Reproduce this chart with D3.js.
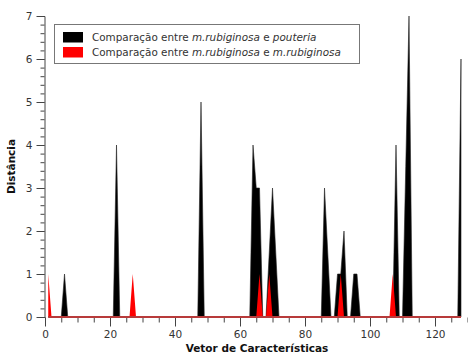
<!DOCTYPE html>
<html>
<head>
<meta charset="utf-8">
<script src="https://cdn.jsdelivr.net/npm/d3@7"></script>
<style>
  body { margin: 0; background: #fff; }
  svg { display: block; font-family: "DejaVu Sans", Verdana, sans-serif; }
</style>
</head>
<body>
<svg id="chart" width="468" height="355"></svg>
<script>
// feature indices along the x axis
const features = d3.range(1, 129);

// m.rubiginosa x pouteria: features with a non-zero distance (rest is 0)
const pouteriaPos = [6, 22, 48, 64, 65, 66, 69, 70, 71, 86, 87, 90, 91, 92, 95, 96, 108, 111, 112, 128];
const pouteriaVal = [1, 4, 5, 4, 3, 3, 1.5, 3, 1.5, 3, 1.5, 1, 1, 2, 1, 1, 4, 3.5, 7, 6];

// m.rubiginosa x m.rubiginosa
const rubiginosaPos = [1, 27, 66, 69, 91, 107];
const rubiginosaVal = [1, 1, 1, 1, 1, 1];

const xTicks = [0, 20, 40, 60, 80, 100, 120];
const yTicks = [0, 1, 2, 3, 4, 5, 6, 7];

// legend rows: [text, italic]
const legendRows = [
  [["Comparação entre ", false], ["m.rubiginosa", true], [" e ", false], ["pouteria", true]],
  [["Comparação entre ", false], ["m.rubiginosa", true], [" e ", false], ["m.rubiginosa", true]]
];
const seriesColors = ["#000000", "#ff0000"];

function toSeries(pos, val) {
  const m = new Map(pos.map((p, i) => [p, val[i]]));
  return features.map((f) => ({ x: f, y: m.has(f) ? m.get(f) : 0 }));
}

const data = [toSeries(pouteriaPos, pouteriaVal), toSeries(rubiginosaPos, rubiginosaVal)];

const svg = d3.select("svg#chart");

const x = d3.scaleLinear().domain([0, 130]).range([45, 467.5]);
const y = d3.scaleLinear().domain([0, 7]).range([317, 16]);

const area = d3
  .area()
  .x((d) => x(d.x))
  .y0(y(0))
  .y1((d) => y(d.y));

// x axis: minor ticks every 5, labels every 20
const gx = svg.append("g").attr("transform", `translate(0,${y(0) + 0.5})`);
gx.call(d3.axisBottom(x).tickValues(d3.range(0, 131, 5)).tickSize(5).tickFormat(""));
gx.call((g) => g.select(".domain").remove());
const gxMajor = svg.append("g").attr("transform", `translate(0,${y(0) + 0.5})`);
gxMajor.call(d3.axisBottom(x).tickValues(xTicks).tickSize(9).tickPadding(4).tickFormat(d3.format("d")));
gxMajor.select(".domain").remove();

// y axis: minor ticks every 0.2
const gy = svg.append("g").attr("transform", `translate(${x(0) - 0.5},0)`);
gy.call(d3.axisLeft(y).ticks(35).tickSize(4).tickFormat(""));
const gyMajor = svg.append("g").attr("transform", `translate(${x(0) - 0.5},0)`);
gyMajor.call(d3.axisLeft(y).tickValues(yTicks).tickSize(8).tickPadding(4).tickFormat(d3.format("d")));
gyMajor.select(".domain").remove();

svg.selectAll(".tick line").attr("stroke", "#444");
svg.selectAll(".domain").attr("stroke", "#444");
svg.selectAll(".tick text").attr("fill", "#333").attr("font-size", "10.5px").attr("font-family", "DejaVu Sans, sans-serif");

// areas
svg
  .append("g")
  .selectAll("path")
  .data(data)
  .enter()
  .append("path")
  .attr("d", area)
  .attr("fill", (d, i) => seriesColors[i])
  .attr("stroke", (d, i) => (i === 0 ? "#222" : "none"))
  .attr("stroke-width", 0.6);

// baseline of the red series
svg
  .append("path")
  .attr("d", d3.line().x((d) => x(d.x)).y(y(0))(data[1]))
  .attr("fill", "none")
  .attr("stroke", "#b83a3a")
  .attr("stroke-width", 2);

// axis titles
svg
  .append("text")
  .attr("x", 257)
  .attr("y", 352)
  .attr("text-anchor", "middle")
  .attr("font-weight", "bold")
  .attr("font-size", "10.5px")
  .attr("fill", "#111")
  .text("Vetor de Características");

svg
  .append("text")
  .attr("transform", `translate(15,${(y(0) + y(7)) / 2}) rotate(-90)`)
  .attr("text-anchor", "middle")
  .attr("font-weight", "bold")
  .attr("font-size", "10.5px")
  .attr("fill", "#111")
  .text("Distância");

// legend
const legend = svg.append("g");
legend
  .append("rect")
  .attr("x", 54.5)
  .attr("y", 24.5)
  .attr("width", 305)
  .attr("height", 39)
  .attr("fill", "#fff")
  .attr("stroke", "#777");

legendRows.forEach((row, i) => {
  const ly = 32 + i * 15;
  legend
    .append("rect")
    .attr("x", 63)
    .attr("y", ly)
    .attr("width", 20)
    .attr("height", 10.5)
    .attr("fill", seriesColors[i]);
  const t = legend
    .append("text")
    .attr("x", 92)
    .attr("y", ly + 9)
    .attr("font-size", "10.4px")
    .attr("fill", "#333")
    .attr("xml:space", "preserve");
  row.forEach(([s, it]) => {
    t.append("tspan").attr("font-style", it ? "italic" : "normal").text(s);
  });
});
</script>
</body>
</html>
